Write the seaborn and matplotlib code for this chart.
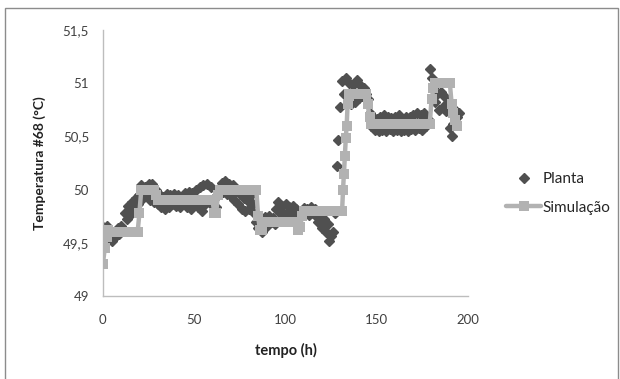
import seaborn as sns
import matplotlib.pyplot as plt
import matplotlib.patches as patches
import matplotlib.ticker as ticker
import numpy as np
import pandas as pd

# Planta - measured temperature, one reading per hour
planta_t = list(range(0, 196))
planta_temp = [
    49.65, 49.60, 49.66, 49.55, 49.62, 49.52, 49.60, 49.56, 49.64, 49.58,
    49.66, 49.62, 49.78, 49.72, 49.85, 49.76, 49.88, 49.80, 49.92, 49.86,
    49.95, 50.04, 49.92, 50.02, 49.96, 50.05, 49.90, 50.05, 49.88, 50.00,
    49.86, 49.95, 49.84, 49.93, 49.82, 49.96, 49.84, 49.95, 49.86, 49.96,
    49.85, 49.95, 49.84, 49.93, 49.86, 49.97, 49.84, 49.98, 49.82, 49.97,
    49.86, 50.00, 49.84, 50.02, 49.80, 50.04, 49.86, 50.05, 49.88, 50.02,
    49.86, 49.92, 49.84, 49.95, 49.96, 50.06, 49.98, 50.08, 49.96, 50.05,
    49.94, 50.04, 49.90, 50.00, 49.86, 49.96, 49.82, 49.92, 49.80, 49.90,
    49.82, 49.95, 49.86, 49.78, 49.70, 49.64, 49.72, 49.60, 49.68, 49.74,
    49.66, 49.75, 49.70, 49.73, 49.68, 49.82, 49.88, 49.78, 49.85, 49.76,
    49.86, 49.78, 49.84, 49.76, 49.85, 49.74, 49.82, 49.72, 49.80, 49.76,
    49.83, 49.78, 49.82, 49.76, 49.84, 49.78, 49.82, 49.74, 49.70, 49.78,
    49.64, 49.72, 49.60, 49.68, 49.52, 49.56, 49.60, 49.78, 50.22, 50.47,
    50.78, 51.02, 50.90, 51.05, 50.82, 51.00, 50.80, 50.98, 50.82, 51.03,
    50.86, 50.98, 50.88, 50.95, 50.90, 50.85, 50.72, 50.60, 50.68, 50.56,
    50.66, 50.55, 50.68, 50.56, 50.70, 50.55, 50.68, 50.57, 50.67, 50.55,
    50.68, 50.56, 50.70, 50.55, 50.66, 50.56, 50.68, 50.55, 50.68, 50.57,
    50.70, 50.56, 50.72, 50.58, 50.70, 50.56, 50.72, 50.60, 50.66, 51.13,
    51.05, 50.95, 50.82, 50.90, 50.75, 50.92, 50.78, 50.88, 50.74, 50.82,
    50.58, 50.50, 50.62, 50.75, 50.68, 50.72,
]

# Simulação - model output (finer sampling on the big step)
sim_t = list(range(0, 132)) + [131.5, 132, 132.5, 133, 133.5, 134, 134.5] + list(range(135, 195))
sim_temp = (
    [49.30, 49.45, 49.55, 49.62] + [49.60] * 16
    + [49.78] + [50.00] * 8 + [49.95] + [49.90] * 31
    + [49.78, 49.78, 49.95] + [50.00] * 21
    + [49.75, 49.62, 49.62] + [49.70] * 19
    + [49.62, 49.65, 49.75] + [49.80] * 22
    + [50.00, 50.15, 50.32, 50.48, 50.60, 50.80, 50.88]
    + [50.90] * 10 + [50.80, 50.68] + [50.62] * 33
    + [50.85, 50.95] + [51.00] * 9 + [50.80, 50.72, 50.65, 50.60]
)

planta = pd.DataFrame({'tempo': planta_t, 'temp': planta_temp})
sim = pd.DataFrame({'tempo': sim_t, 'temp': sim_temp})

sns.set_style('white')
plt.rcParams['font.family'] = ['Lato', 'DejaVu Sans']

fig, ax = plt.subplots(figsize=(6.2, 3.79), dpi=100)
fig.subplots_adjust(left=0.166, right=0.755, top=0.921, bottom=0.219)

ax.plot(planta['tempo'], planta['temp'], linestyle='none', marker='D',
        markersize=5, color='#505050', label='Planta', zorder=2)
sns.lineplot(data=sim, x='tempo', y='temp', ax=ax, color='#b2b2b2',
             linewidth=3.2, marker='s', markersize=6.5, markeredgewidth=0,
             label='Simulação', zorder=3, estimator=None, sort=False)

ax.set_xlim(0, 200)
ax.set_ylim(49, 51.5)
ax.xaxis.set_major_locator(ticker.MultipleLocator(50))
ax.yaxis.set_major_locator(ticker.MultipleLocator(0.5))
ax.yaxis.set_major_formatter(ticker.FuncFormatter(
    lambda v, p: ('%g' % v).replace('.', ',')))

for s in ['top', 'right']:
    ax.spines[s].set_visible(False)
for s in ['left', 'bottom']:
    ax.spines[s].set_color('#bdbdbd')
    ax.spines[s].set_linewidth(1.0)
ax.tick_params(axis='both', direction='out', length=4, width=1,
               color='#bdbdbd', labelsize=9.5, labelcolor='#404040')
ax.tick_params(axis='x', pad=9)
ax.tick_params(axis='y', pad=6)

ax.set_xlabel('tempo (h)', fontsize=10.5, fontweight='bold', color='#222222', labelpad=12)
ax.set_ylabel('Temperatura #68 (°C)', fontsize=10, fontweight='bold', color='#222222', labelpad=12)

ax.legend(loc='center left', bbox_to_anchor=(1.066, 0.385), frameon=False,
          fontsize=11, handlelength=2.3, handletextpad=0.1, labelspacing=0.95)

border = patches.Rectangle((0.008, -0.02), 0.989, 0.999, transform=fig.transFigure,
                           fill=False, edgecolor='#8c8c8c', linewidth=1.0)
fig.patches.append(border)

fig.savefig('out.png', dpi=100)
